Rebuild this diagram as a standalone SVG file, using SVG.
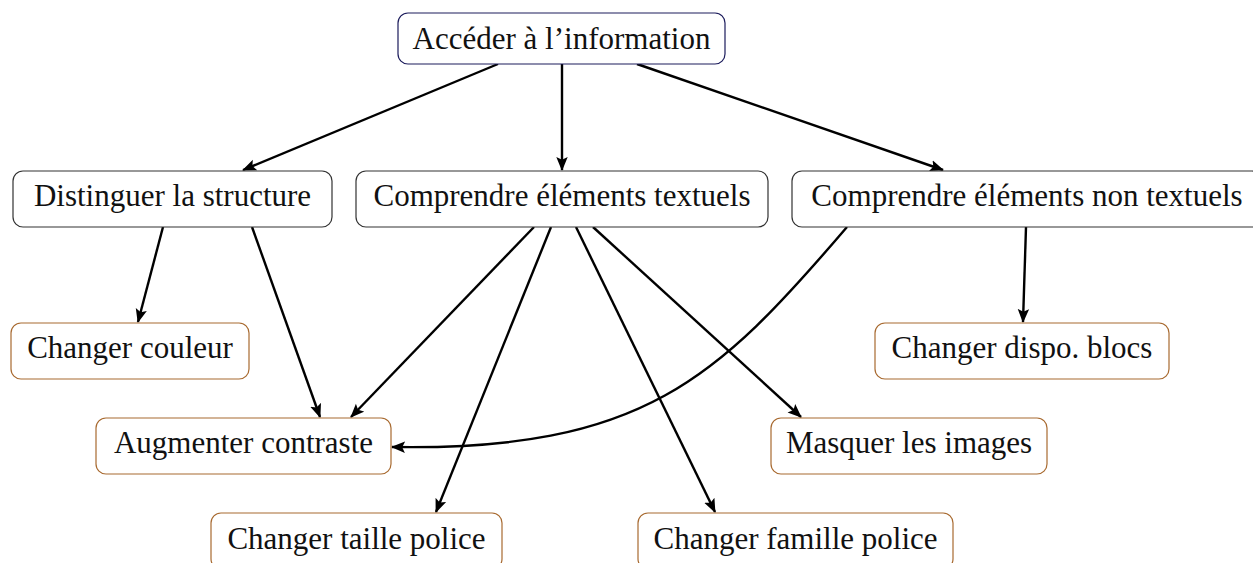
<svg xmlns="http://www.w3.org/2000/svg" width="1253" height="563" viewBox="0 0 1253 563">
<defs>
<style>
.box{fill:#ffffff;stroke-width:1.2}
.root{stroke:#1c1c5c}
.mid{stroke:#333333}
.leaf{stroke:#a86a30}
.lbl{font-family:"Liberation Serif","DejaVu Serif",serif;font-size:31px;fill:#111111;text-anchor:middle}
.edge{fill:none;stroke:#000000;stroke-width:2.4}
</style>
<marker id="arr" markerUnits="userSpaceOnUse" markerWidth="15" markerHeight="13" viewBox="0 0 15 13" refX="13" refY="6.5" orient="auto">
<path d="M0,0.8 L14,6.5 L0,12.2 L2.8,6.5 Z" fill="#000000"/>
</marker>
</defs>
<rect width="1253" height="563" fill="#ffffff"/>
<g id="connectors">
<path class="edge" marker-end="url(#arr)" d="M498,64 L243,170"/>
<path class="edge" marker-end="url(#arr)" d="M562,64 L562,170"/>
<path class="edge" marker-end="url(#arr)" d="M637,64 L943,170"/>
<path class="edge" marker-end="url(#arr)" d="M163,227 L138,322"/>
<path class="edge" marker-end="url(#arr)" d="M252,227 L320,417"/>
<path class="edge" marker-end="url(#arr)" d="M534,227 L351,417"/>
<path class="edge" marker-end="url(#arr)" d="M551,227 L436,512"/>
<path class="edge" marker-end="url(#arr)" d="M576,227 L715,512"/>
<path class="edge" marker-end="url(#arr)" d="M593,227 L801,417"/>
<path class="edge" marker-end="url(#arr)" d="M847,227 C717,379 643,451 392,447"/>
<path class="edge" marker-end="url(#arr)" d="M1026,227 L1023,322"/>
</g>
<g id="n-acceder">
<rect class="box root" x="398" y="13" width="327" height="51" rx="10"/>
<text class="lbl" x="561.5" y="49">Accéder à l’information</text>
</g>
<g id="n-distinguer">
<rect class="box mid" x="13" y="171" width="319" height="56" rx="10"/>
<text class="lbl" x="172.5" y="206">Distinguer la structure</text>
</g>
<g id="n-textuels">
<rect class="box mid" x="356" y="171" width="412" height="56" rx="10"/>
<text class="lbl" x="562" y="206">Comprendre éléments textuels</text>
</g>
<g id="n-nontextuels">
<rect class="box mid" x="792" y="171" width="470" height="56" rx="10"/>
<text class="lbl" x="1027" y="206">Comprendre éléments non textuels</text>
</g>
<g id="n-couleur">
<rect class="box leaf" x="11" y="323" width="238" height="56" rx="10"/>
<text class="lbl" x="130" y="358">Changer couleur</text>
</g>
<g id="n-contraste">
<rect class="box leaf" x="96" y="418" width="295" height="56" rx="10"/>
<text class="lbl" x="243.5" y="453">Augmenter contraste</text>
</g>
<g id="n-dispo">
<rect class="box leaf" x="875" y="323" width="294" height="56" rx="10"/>
<text class="lbl" x="1022" y="358">Changer dispo. blocs</text>
</g>
<g id="n-masquer">
<rect class="box leaf" x="771" y="418" width="276" height="56" rx="10"/>
<text class="lbl" x="909" y="453">Masquer les images</text>
</g>
<g id="n-taille">
<rect class="box leaf" x="211" y="513" width="291" height="56" rx="10"/>
<text class="lbl" x="356.5" y="549">Changer taille police</text>
</g>
<g id="n-famille">
<rect class="box leaf" x="638" y="513" width="315" height="56" rx="10"/>
<text class="lbl" x="795.5" y="549">Changer famille police</text>
</g>
</svg>
